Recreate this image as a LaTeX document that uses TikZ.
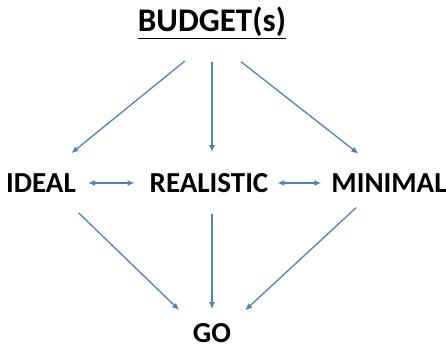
\documentclass[tikz,border=0pt]{standalone}
\usepackage{fontspec}
\setmainfont{Carlito}
\usetikzlibrary{arrows.meta}
\definecolor{arrowblue}{RGB}{79,129,189}
\tikzset{
    lbl/.style={font=\bfseries\fontsize{29}{34}\selectfont, inner sep=0pt},
    link/.style={arrowblue, line width=1.3pt, ->},
}
\begin{document}
\begin{tikzpicture}[>={Latex[length=7pt,width=6pt]}, x=1pt, y=-1pt]
\useasboundingbox (0,0) rectangle (446,350);
\node[lbl, font=\bfseries\fontsize{33}{38}\selectfont] (budget) at (212,23) {\underline{BUDGET(s)}};
\node[lbl] (ideal) at (41,183) {IDEAL};
\node[lbl] (realistic) at (209,183) {REALISTIC};
\node[lbl] (minimal) at (389,183) {MINIMAL};
\node[lbl] (go) at (212,333) {GO};

% from the budget
\draw[link, shorten <=35pt, shorten >=32pt] (budget.south) -- (ideal.60);
\draw[link, shorten <=23pt, shorten >=21pt] (budget.south) -- (budget.south |- realistic.north);
\draw[link, shorten <=37pt, shorten >=32pt] (budget.south) -- (minimal.120);
% between the three
\draw[link, <->, shorten <=12pt, shorten >=15pt] (ideal.east) -- (realistic.west);
\draw[link, <->, shorten <=9pt, shorten >=10pt] (realistic.east) -- (minimal.west);
% down to go
\draw[link, shorten <=29pt, shorten >=19pt] (ideal.-30) -- (go.north west);
\draw[link, shorten <=21pt, shorten >=14pt] (go.north |- realistic.south) -- (go.north);
\draw[link, shorten <=22pt, shorten >=19pt] (minimal.-150) -- (go.north east);

\end{tikzpicture}
\end{document}
